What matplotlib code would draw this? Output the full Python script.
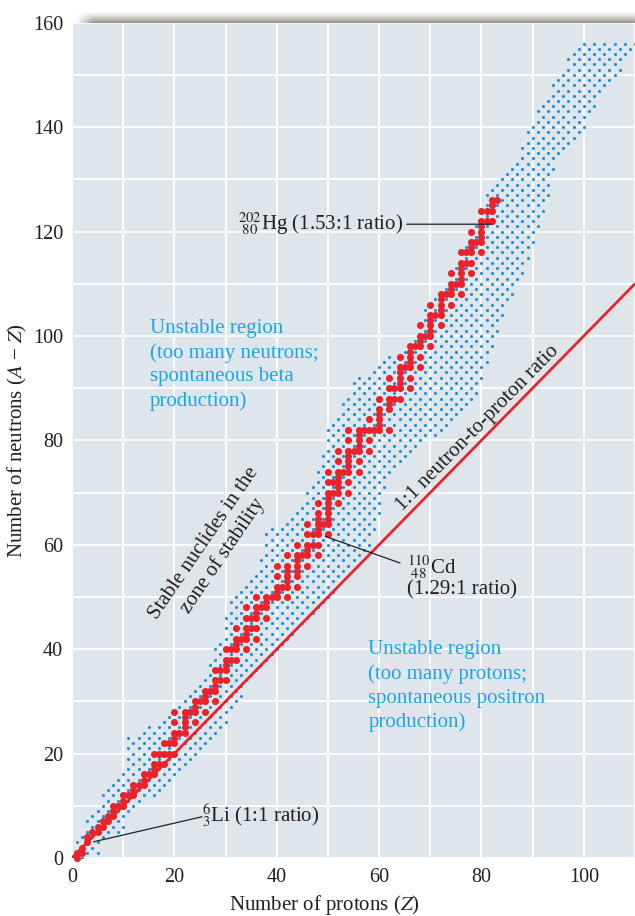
import numpy as np
import matplotlib
matplotlib.use("Agg")
import matplotlib.pyplot as plt
from matplotlib.path import Path

# ---------------- data ----------------
# Stable nuclides: neutron numbers N for each proton number Z = 1, 2, 3, ...
stable_neutrons = [
    [0, 1], [1, 2], [3, 4], [5], [5, 6], [6, 7], [7, 8], [8, 9, 10], [10],
    [10, 11, 12], [12], [12, 13, 14], [14], [14, 15, 16], [16],
    [16, 17, 18, 20], [18, 20], [18, 20, 22], [20, 22],
    [20, 22, 23, 24, 26, 28], [24], [24, 25, 26, 27, 28], [28],
    [26, 28, 29, 30], [30], [28, 30, 31, 32], [32], [30, 32, 33, 34, 36],
    [34, 36], [34, 36, 37, 38, 40], [38, 40], [38, 40, 41, 42, 44], [42],
    [40, 42, 43, 44, 46, 48], [44, 46], [42, 44, 46, 47, 48, 50], [48],
    [46, 48, 49, 50], [50], [50, 51, 52, 54, 56], [52],
    [50, 52, 53, 54, 55, 56, 58], [], [52, 54, 55, 56, 57, 58, 60], [58],
    [56, 58, 59, 60, 62, 64], [60, 62], [58, 60, 62, 63, 64, 65, 66, 68],
    [64], [62, 64, 65, 66, 67, 68, 69, 70, 72, 74], [70, 72],
    [68, 70, 71, 72, 73, 74, 76, 78], [74],
    [70, 72, 74, 75, 76, 77, 78, 80, 82], [78],
    [74, 76, 78, 79, 80, 81, 82], [82], [78, 80, 82, 84], [82],
    [82, 83, 84, 85, 86, 88], [], [82, 86, 87, 88, 90, 92], [88, 90],
    [88, 90, 91, 92, 93, 94, 96], [94], [90, 92, 94, 95, 96, 97, 98], [98],
    [94, 96, 98, 99, 100, 102], [100], [98, 100, 101, 102, 103, 104, 106],
    [104], [102, 104, 105, 106, 107, 108], [108], [106, 108, 109, 110, 112],
    [110], [108, 110, 111, 112, 113, 114, 116], [114, 116],
    [112, 114, 116, 117, 118, 120], [118],
    [116, 118, 119, 120, 121, 122, 124], [122, 124], [122, 124, 125, 126],
    [126],
]
proton_numbers = list(range(1, len(stable_neutrons) + 1))

# Outline of the region of known unstable nuclides (Z, N)
unstable_upper_Z = [0.5, 1.6, 4.8, 6.1, 8.1, 10.0, 10.5, 12.2, 15.9, 19.8, 21.8,
                    24.4, 26.3, 27.3, 28.6, 30.0, 30.2, 32.2, 33.8, 36.1, 37.0,
                    37.4, 40.3, 43.9, 47.8, 49.8, 51.7, 55.7, 58.8, 60.9, 63.5,
                    66.1, 68.0, 70.0, 72.6, 75.2, 77.2, 79.4, 80.7, 83.7, 84.9,
                    87.6, 88.2, 89.4, 91.5, 93.1, 94.4, 96.7, 98.0, 100.0, 110.5]
unstable_upper_N = [2.0, 5.0, 9.6, 13.0, 15.3, 16.3, 23.0, 23.8, 25.5, 28.6, 31.5,
                    34.0, 36.2, 39.4, 41.3, 47.0, 49.5, 50.2, 52.1, 55.6, 59.0,
                    62.0, 64.2, 66.1, 74.3, 81.7, 85.1, 92.8, 93.0, 95.3, 97.2,
                    98.5, 102.9, 108.0, 110.2, 115.3, 119.4, 122.0, 127.0, 130.5,
                    132.2, 134.7, 138.5, 140.5, 144.3, 147.0, 149.6, 153.0, 154.7,
                    156.5, 156.8]
unstable_lower_Z = [110.5, 109.1, 107.1, 105.2, 102.6, 101.3, 100.0, 94.8, 93.1,
                    91.5, 89.5, 88.2, 86.3, 85.0, 83.3, 81.7, 80.7, 79.4, 77.8,
                    75.9, 73.3, 70.0, 67.0, 64.1, 61.5, 59.5, 58.3, 53.7, 49.8,
                    47.8, 43.3, 40.0, 36.1, 32.8, 30.2, 27.6, 25.7, 22.1, 19.8,
                    13.9, 11.0, 9.1, 6.8, 5.5, 1.6]
unstable_lower_N = [155.0, 154.5, 151.0, 148.2, 144.6, 141.8, 139.3, 134.8, 127.2,
                    121.5, 115.1, 111.9, 108.1, 105.5, 100.8, 96.4, 93.5, 89.4,
                    87.2, 84.6, 82.1, 80.2, 78.3, 75.7, 71.5, 62.5, 59.9, 54.8,
                    49.1, 46.9, 41.5, 39.3, 35.1, 30.7, 26.2, 23.1, 20.2, 18.0,
                    14.8, 10.4, 7.2, 4.6, 3.7, 1.2, -0.8]

x_ticks = [0, 20, 40, 60, 80, 100]
y_ticks = [0, 20, 40, 60, 80, 100, 120, 140, 160]

# ---------------- style ----------------
plt.rcParams['font.family'] = ['Liberation Serif', 'DejaVu Serif']
plt.rcParams['mathtext.fontset'] = 'stix'

BG = '#dee6ec'
RED = '#e8232b'
BLUE_DOT = '#1f8ed6'
BLUE_TXT = '#1da6e2'
INK = '#231f20'

fig = plt.figure(figsize=(6.35, 9.16), dpi=100)
W, H = 635, 916
ax = fig.add_axes([72 / W, 1 - 858 / H, (635 - 72) / W, (858 - 22.7) / H])
ax.set_facecolor(BG)
for s in ax.spines.values():
    s.set_visible(False)
ax.set_xlim(0, 110)
ax.set_ylim(0, 160)
ax.set_xticks(x_ticks)
ax.set_yticks(y_ticks)
ax.set_xticks(np.arange(0, 111, 10), minor=True)
ax.set_yticks(np.arange(0, 161, 10), minor=True)
ax.grid(which='both', color='white', linewidth=1.2)
ax.set_axisbelow(True)
ax.tick_params(which='both', length=0, labelsize=14.5, colors=INK)
ax.tick_params(axis='y', pad=6.5)
ax.tick_params(axis='x', pad=7)

# unstable region dots (nuclide lattice inside the outline)
outline = Path(np.column_stack([unstable_upper_Z + unstable_lower_Z,
                                unstable_upper_N + unstable_lower_N]))
zz, nn = np.meshgrid(np.arange(0, 111), np.arange(0, 161))
zz = zz.ravel(); nn = nn.ravel()
inside = outline.contains_points(np.column_stack([zz, nn])) & ((zz + nn) % 2 == 0)
ax.scatter(zz[inside], nn[inside], s=5.0, marker='o', color=BLUE_DOT,
           linewidths=0, zorder=2)

# 1:1 line
ax.plot([0, 110], [0, 110], color=RED, lw=2.0, zorder=3, solid_capstyle='butt')

# stable nuclides
sz, sn = [], []
for z, ns in zip(proton_numbers, stable_neutrons):
    for n in ns:
        sz.append(z); sn.append(n)
ax.scatter(sz, sn, s=26, color=RED, linewidths=0, zorder=4, clip_on=False)

# labels
ax.set_xlabel('Number of protons ($\\mathit{Z}$)', fontsize=15, color=INK)
ax.set_ylabel('Number of neutrons ($\\mathit{A}$ \u2212 $\\mathit{Z}$)', fontsize=15,
              color=INK)
ax.xaxis.set_label_coords(0.449, -0.0415)
ax.yaxis.set_label_coords(-0.076, 0.5)

ax.text(15.25, 103.2, 'Unstable region\n(too many neutrons;\nspontaneous beta\nproduction)',
        color=BLUE_TXT, fontsize=15, ha='left', va='top', linespacing=1.33)
ax.text(57.9, 41.7, 'Unstable region\n(too many protons;\nspontaneous positron\nproduction)',
        color=BLUE_TXT, fontsize=15, ha='left', va='top', linespacing=1.33)

ax.text(27.7, 59.0, 'Stable nuclides in the\nzone of stability', fontsize=15,
        rotation=55.7, rotation_mode='anchor', ha='center', va='center',
        multialignment='center', linespacing=1.2, color=INK)
ax.text(79.3, 82.3, '1:1 neutron-to-proton ratio', fontsize=15, rotation=45.6,
        rotation_mode='anchor', ha='center', va='center', color=INK)

lk = dict(arrowstyle='-', lw=0.9, color=INK, shrinkA=0, shrinkB=0)
ax.annotate('', xy=(82.0, 121.4), xytext=(65.4, 121.4), arrowprops=lk, zorder=5)
ax.text(32.45, 120.4, '${}^{202}_{\\ 80}$Hg (1.53:1 ratio)', fontsize=15,
        ha='left', va='baseline', color=INK)

ax.annotate('', xy=(49.5, 61.6), xytext=(64.1, 56.5), arrowprops=lk, zorder=5)
ax.text(65.4, 54.5, '${}^{110}_{\\ 48}$Cd', fontsize=15, ha='left', va='baseline',
        color=INK)
ax.text(65.4, 50.4, '(1.29:1 ratio)', fontsize=15, ha='left', va='baseline',
        color=INK)

ax.annotate('', xy=(4.2, 3.1), xytext=(25.4, 7.9), arrowprops=lk, zorder=5)
ax.text(25.4, 6.95, '${}^{6}_{3}$Li (1:1 ratio)', fontsize=15, ha='left',
        va='baseline', color=INK)

# shadow bar above the plot
sh = fig.add_axes([76 / W, 1 - 23 / H, (635 - 76) / W, 11 / H])
sh.set_axis_off()
vert = np.linspace(0.0, 1.0, 24)[:, None] ** 1.3
horiz = np.clip(np.linspace(0, 1, 560) / 0.03, 0, 1)[None, :]
alpha = vert * horiz
img = np.zeros(alpha.shape + (4,))
img[..., 0] = 0.59; img[..., 1] = 0.58; img[..., 2] = 0.54
img[..., 3] = alpha
sh.imshow(img, aspect='auto', interpolation='bilinear', extent=[0, 1, 0, 1])

fig.savefig('out.png', dpi=100)
